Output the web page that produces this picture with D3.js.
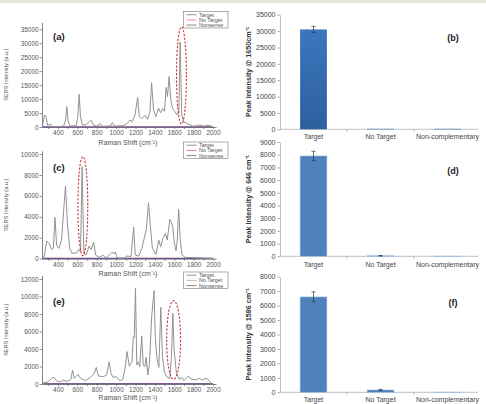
<!DOCTYPE html>
<html>
<head>
<meta charset="utf-8">
<script src="https://cdn.jsdelivr.net/npm/d3@7"></script>
<style>
  body { margin: 0; background: #fff; }
  svg { display: block; font-family: "Liberation Sans", Arial, sans-serif; }
</style>
</head>
<body>
<svg id="fig" width="486" height="404"></svg>
<script>
// ---- spectra: [Raman shift (cm-1), SERS intensity (a.u.)] ----
const spectrumA = [
  [236, 360], [246, 1300], [263, 4300], [277, 3700], [294, 600], [321, 1100], [338, 100],
  [458, 250], [479, 2500], [492, 7300], [506, 1900], [527, 350], [588, 480], [605, 3700],
  [619, 11700], [633, 3700], [653, 600], [698, 950], [725, 2000], [742, 2400], [766, 700],
  [800, 350], [835, 1200], [855, 250], [938, 350], [962, 1550], [982, 350], [1075, 480],
  [1116, 1300], [1143, 2500], [1167, 1900], [1195, 4300], [1222, 10600], [1239, 3700],
  [1263, 2900], [1297, 4200], [1325, 2750], [1349, 5500], [1366, 15900], [1386, 6100],
  [1410, 3700], [1438, 6800], [1458, 5100], [1479, 6600], [1499, 5600], [1516, 14200],
  [1530, 10900], [1547, 18100], [1564, 9700], [1582, 6700], [1605, 5500], [1629, 4300],
  [1647, 5100], [1660, 30500], [1677, 4300], [1698, 1900], [1742, 1100], [1794, 250],
  [1862, 700], [1903, 350], [1948, 600], [2000, 120]
];
const spectrumC = [
  [240, 100], [258, 190], [285, 1690], [309, 1460], [336, 890], [353, 990], [370, 3950],
  [386, 1300], [410, 990], [437, 1780], [478, 6940], [498, 3380], [522, 990], [545, 510],
  [596, 570], [613, 890], [633, 670], [650, 8790], [667, 510], [691, 350], [721, 1210],
  [742, 890], [769, 1560], [789, 350], [823, 130], [850, 250], [870, 320], [897, 64],
  [941, 450], [962, 640], [978, 450], [992, 640], [1012, 64], [1087, 64], [1107, 250],
  [1154, 220], [1181, 2990], [1198, 350], [1232, 250], [1266, 990], [1313, 2870],
  [1334, 5350], [1354, 3060], [1374, 990], [1412, 410], [1439, 1780], [1459, 1150],
  [1483, 1940], [1510, 2420], [1527, 1780], [1554, 3760], [1567, 3540], [1584, 3060],
  [1601, 1460], [1618, 760], [1631, 1780], [1645, 4710], [1662, 1780], [1679, 350],
  [1713, 130], [2000, 30]
];
const spectrumE = [
  [243, 80], [300, 270], [333, 650], [360, 760], [383, 380], [417, 230], [460, 460],
  [484, 300], [517, 380], [534, 530], [551, 1600], [567, 650], [587, 840], [608, 1100],
  [634, 650], [685, 380], [735, 760], [775, 1220], [795, 1900], [818, 910], [869, 840],
  [902, 1030], [929, 2550], [946, 1220], [969, 760], [1003, 840], [1036, 380], [1069, 530],
  [1093, 1790], [1113, 3700], [1136, 2060], [1163, 2550], [1177, 5410], [1187, 5330],
  [1200, 10940], [1213, 2170], [1230, 2550], [1244, 1980], [1264, 5490], [1280, 2170],
  [1297, 1980], [1310, 3050], [1327, 1030], [1344, 2360], [1367, 7700], [1391, 10670],
  [1404, 5410], [1421, 2930], [1441, 1900], [1461, 8760], [1478, 3120], [1498, 1410],
  [1521, 840], [1555, 650], [1572, 3500], [1585, 8080], [1598, 3890], [1622, 1220],
  [1655, 530], [1679, 760], [1699, 380], [1746, 910], [1772, 570], [1823, 460],
  [1856, 650], [1890, 460], [1923, 650], [1946, 570], [1973, 150], [2000, 0]
];
// control spectra sit on the baseline
const noTargetLine = [[240, 60], [800, 40], [1400, 60], [2000, 40]];
const nonsenseLine = [[240, 20], [900, 30], [1500, 20], [2000, 30]];

// highlighted peak: [centre shift, centre intensity, half width (cm-1), half height]
const ellipseA = [1674, 18500, 51, 17400];
const ellipseC = [657, 5020, 51, 4730];
const ellipseE = [1593, 5030, 72, 4500];

const legendLabels = ["Target", "No Target", "Nonsense"];
const shiftTicks = [400, 600, 800, 1000, 1200, 1400, 1600, 1800, 2000];

// ---- peak intensity bar charts ----
const categories = ["Target", "No Target", "Non-complementary"];
const peak1650 = [30500, 150, 150];
const err1650 = [950, 0, 0];
const peak646 = [7900, 40, 15];
const err646 = [370, 20, 0];
const peak1586 = [6600, 160, 10];
const err1586 = [350, 40, 0];

const svg = d3.select("#fig");
svg.append("rect").attr("width", 486).attr("height", 3).attr("fill", "#e4e4dc");

const drawSpectrum = (cfg) => {
  const g = svg.append("g");
  const x = d3.scaleLinear().domain([236, 2030]).range([42, 216]);
  const y = d3.scaleLinear().domain([0, cfg.yTop]).range([cfg.y0, cfg.y0 - cfg.yTop * cfg.k]);

  const yAxis = g.append("g").attr("transform", "translate(42,0)")
    .call(d3.axisLeft(y).tickValues(cfg.yTicks).tickSize(2.5).tickSizeOuter(0).tickFormat(d3.format("d")));
  const xAxis = g.append("g").attr("transform", `translate(0,${cfg.y0})`)
    .call(d3.axisBottom(x).tickValues(d3.range(300, 2001, 100)).tickSize(2).tickSizeOuter(0)
      .tickFormat(d => shiftTicks.includes(d) ? d : ""));
  [yAxis, xAxis].forEach(a => {
    a.select(".domain").attr("stroke", "#666").attr("stroke-width", 0.8);
    a.selectAll(".tick line").attr("stroke", "#666").attr("stroke-width", 0.7);
    a.selectAll("text").attr("fill", "#555").style("font-size", "6.4px");
  });
  yAxis.selectAll("text").attr("x", -3.5);
  xAxis.selectAll("text").attr("y", 3.5);

  const line = d3.line().x(d => x(d[0])).y(d => y(d[1]));
  g.append("path").datum(noTargetLine).attr("d", line).attr("fill", "none")
    .attr("stroke", "#c86060").attr("stroke-width", 0.8);
  g.append("path").datum(nonsenseLine).attr("d", line).attr("fill", "none")
    .attr("stroke", "#4a4a9c").attr("stroke-width", 0.9);
  g.append("path").datum(cfg.data).attr("d", line).attr("fill", "none")
    .attr("stroke", "#929292").attr("stroke-width", 1).attr("stroke-linejoin", "round");

  const [cx, cy, rx, ry] = cfg.ellipse;
  g.append("ellipse")
    .attr("cx", x(cx)).attr("cy", y(cy))
    .attr("rx", x(cx + rx) - x(cx)).attr("ry", y(0) - y(ry))
    .attr("fill", "none").attr("stroke", "#d0302c").attr("stroke-width", 1.1)
    .attr("stroke-dasharray", "2.2,1.6");

  g.append("text").attr("x", 53).attr("y", cfg.labelY).text(cfg.label)
    .style("font-size", "9.5px").style("font-weight", "bold").attr("fill", "#222");

  g.append("text").attr("transform", `translate(8,${(cfg.y0 + cfg.y0 - cfg.yTop * cfg.k) / 2}) rotate(-90)`)
    .attr("text-anchor", "middle").style("font-size", "5.6px").attr("fill", "#555")
    .text("SERS Intensity (a.u.)");
  g.append("text").attr("x", 128).attr("y", cfg.titleY).attr("text-anchor", "middle")
    .style("font-size", "7px").attr("fill", "#555").text("Raman Shift (cm⁻¹)");

  // legend
  const lg = g.append("g").attr("transform", `translate(183.5,${cfg.legendY})`);
  lg.append("rect").attr("width", 44.5).attr("height", 16.5).attr("fill", "#fff")
    .attr("stroke", "#777").attr("stroke-width", 0.6);
  const legendColors = ["#666", cfg.noTargetColor, "#555"];
  legendLabels.forEach((t, i) => {
    lg.append("line").attr("x1", 3).attr("x2", 13).attr("y1", 3.2 + i * 5.2).attr("y2", 3.2 + i * 5.2)
      .attr("stroke", legendColors[i]).attr("stroke-width", 0.7);
    lg.append("text").attr("x", 15.5).attr("y", 5.2 + i * 5.2).text(t)
      .style("font-size", "5.4px").attr("fill", "#555");
  });
};

drawSpectrum({ data: spectrumA, y0: 127, k: 97.7 / 35000, yTop: 37500,
  yTicks: d3.range(0, 35001, 5000), ellipse: ellipseA, label: "(a)", labelY: 40,
  titleY: 145, legendY: 11.5, noTargetColor: "#d06a6a" });
drawSpectrum({ data: spectrumC, y0: 258.7, k: 104.7 / 10000, yTop: 10300,
  yTicks: d3.range(0, 10001, 2000), ellipse: ellipseC, label: "(c)", labelY: 171,
  titleY: 276, legendY: 142, noTargetColor: "#b05070" });
drawSpectrum({ data: spectrumE, y0: 384, k: 105 / 12000, yTop: 12400,
  yTicks: d3.range(0, 12001, 2000), ellipse: ellipseE, label: "(e)", labelY: 305,
  titleY: 399.5, legendY: 272, noTargetColor: "#d09060" });

const drawBars = (cfg) => {
  const g = svg.append("g");
  const x = d3.scaleBand().domain(categories).range([280, 481]).paddingInner(0.6).paddingOuter(0.3);
  const y = d3.scaleLinear().domain([0, cfg.yMax]).range([cfg.y0, cfg.yTopPx]);

  if (cfg.gradient) {
    const grad = svg.append("defs").append("linearGradient").attr("id", "barGrad")
      .attr("x1", 0).attr("x2", 0).attr("y1", 0).attr("y2", 1);
    grad.append("stop").attr("offset", "0%").attr("stop-color", "#3b76bd");
    grad.append("stop").attr("offset", "100%").attr("stop-color", "#2d609f");
  }

  const yAxis = g.append("g").attr("transform", "translate(280,0)")
    .call(d3.axisLeft(y).tickValues(cfg.yTicks).tickSize(2.5).tickSizeOuter(0).tickFormat(d3.format("d")));
  yAxis.select(".domain").attr("stroke", "#b0b0b0").attr("stroke-width", 0.8);
  yAxis.selectAll(".tick line").attr("stroke", "#b0b0b0");
  yAxis.selectAll("text").attr("fill", "#444").style("font-size", "7px").attr("x", -4.5);

  const base = g.append("g").attr("transform", `translate(0,${cfg.y0})`);
  base.append("line").attr("x1", 280).attr("x2", 478).attr("stroke", "#b0b0b0").attr("stroke-width", 0.8);
  const step = x.step();
  categories.forEach((c, i) => {
    const bx = x(c) - step * 0.3 + step;
    if (i < categories.length - 1) {
      base.append("line").attr("x1", bx).attr("x2", bx).attr("y1", 0).attr("y2", 2.5).attr("stroke", "#b0b0b0");
    }
  });
  base.selectAll("text.cat").data(categories).join("text").attr("class", "cat")
    .attr("x", d => x(d) + x.bandwidth() / 2).attr("y", cfg.catDy)
    .attr("text-anchor", "middle").style("font-size", "7px").attr("fill", "#444").text(d => d);

  g.selectAll("rect.bar").data(cfg.values).join("rect").attr("class", "bar")
    .attr("x", (d, i) => x(categories[i])).attr("width", x.bandwidth())
    .attr("y", d => y(d)).attr("height", d => cfg.y0 - y(d))
    .attr("fill", cfg.gradient ? "url(#barGrad)" : "#4f81bd")
    .attr("stroke", cfg.gradient ? "none" : "#9fc0e6").attr("stroke-width", 0.6);

  const errs = cfg.values.map((v, i) => ({ v, e: cfg.errors[i], c: categories[i] })).filter(d => d.e > 0);
  errs.forEach(d => {
    const cx = x(d.c) + x.bandwidth() / 2;
    g.append("line").attr("x1", cx).attr("x2", cx).attr("y1", y(d.v + d.e)).attr("y2", y(d.v - d.e))
      .attr("stroke", "#333").attr("stroke-width", 0.7);
    [d.v + d.e, d.v - d.e].forEach(v => {
      g.append("line").attr("x1", cx - 2).attr("x2", cx + 2).attr("y1", y(v)).attr("y2", y(v))
        .attr("stroke", "#333").attr("stroke-width", 0.7);
    });
  });

  g.append("text").attr("x", 453).attr("y", cfg.labelY).attr("text-anchor", "middle")
    .style("font-size", "9px").style("font-weight", "bold").attr("fill", "#222").text(cfg.label);
  g.append("text").attr("transform", `translate(251,${(cfg.y0 + cfg.yTopPx) / 2}) rotate(-90)`)
    .attr("text-anchor", "middle").style("font-size", "7.2px").style("font-weight", "bold")
    .attr("fill", "#333").text(cfg.yLabel);
};

drawBars({ values: peak1650, errors: err1650, yMax: 35000, y0: 129.3, yTopPx: 14.7,
  yTicks: d3.range(0, 35001, 5000), label: "(b)", labelY: 41, gradient: true, catDy: 10,
  yLabel: "Peak Intensity @ 1650cm⁻¹" });
drawBars({ values: peak646, errors: err646, yMax: 9000, y0: 256.3, yTopPx: 142,
  yTicks: d3.range(0, 9001, 1000), label: "(d)", labelY: 174, gradient: false, catDy: 11,
  yLabel: "Peak Intensity @ 646 cm⁻¹" });
drawBars({ values: peak1586, errors: err1586, yMax: 8000, y0: 392.3, yTopPx: 276.7,
  yTicks: d3.range(0, 8001, 1000), label: "(f)", labelY: 306, gradient: false, catDy: 10,
  yLabel: "Peak Intensity @ 1586 cm⁻¹" });
</script>
</body>
</html>
